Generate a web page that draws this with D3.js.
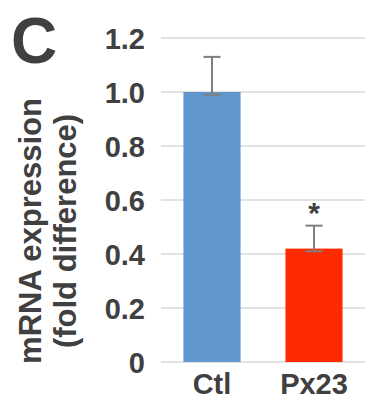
<!DOCTYPE html>
<html>
<head>
<meta charset="utf-8">
<script src="https://cdn.jsdelivr.net/npm/d3@7"></script>
<style>
  html, body { margin: 0; padding: 0; background: #fff; }
  svg { display: block; font-family: "Liberation Sans", Arial, sans-serif; }
  .tick text { font-weight: bold; fill: #404040; }
</style>
</head>
<body>
<div id="chart"></div>
<script>
// data
const groups = ["Ctl", "Px23"];
const means = [1.0, 0.42];
const errLow = [0.99, 0.41];
const errHigh = [1.13, 0.505];
const barColors = ["#5f96cb", "#ff2a00"];
const yTicks = [0, 0.2, 0.4, 0.6, 0.8, 1.0, 1.2];
const signif = ["", "*"];

const width = 365, height = 405;
const margin = { top: 38, right: 0, bottom: 43, left: 161 };
const innerW = width - margin.left - margin.right;
const innerH = height - margin.top - margin.bottom;

const svg = d3.select("#chart").append("svg")
  .attr("width", width)
  .attr("height", height);

const g = svg.append("g")
  .attr("transform", `translate(${margin.left},${margin.top})`);

const x = d3.scaleBand()
  .domain(groups)
  .range([0, innerW])
  .paddingInner(0.44)
  .paddingOuter(0.22);

const y = d3.scaleLinear()
  .domain([0, 1.2])
  .range([innerH, 0]);

// grid
g.append("g")
  .selectAll("line")
  .data(yTicks)
  .join("line")
  .attr("x1", 0)
  .attr("x2", innerW)
  .attr("y1", d => y(d))
  .attr("y2", d => y(d))
  .attr("stroke", "#d9d9d9")
  .attr("stroke-width", 1.5);

// bars
g.selectAll("rect.bar")
  .data(groups)
  .join("rect")
  .attr("class", "bar")
  .attr("x", d => x(d))
  .attr("y", (d, i) => y(means[i]))
  .attr("width", x.bandwidth())
  .attr("height", (d, i) => innerH - y(means[i]))
  .attr("fill", (d, i) => barColors[i]);

// error bars
const cap = 8.5;
const eb = g.selectAll("g.err")
  .data(groups)
  .join("g")
  .attr("class", "err")
  .attr("stroke", "#7f7f7f")
  .attr("stroke-width", 2);
eb.append("line")
  .attr("x1", d => x(d) + x.bandwidth() / 2)
  .attr("x2", d => x(d) + x.bandwidth() / 2)
  .attr("y1", (d, i) => y(errLow[i]))
  .attr("y2", (d, i) => y(errHigh[i]));
eb.append("line")
  .attr("x1", d => x(d) + x.bandwidth() / 2 - cap)
  .attr("x2", d => x(d) + x.bandwidth() / 2 + cap)
  .attr("y1", (d, i) => y(errHigh[i]))
  .attr("y2", (d, i) => y(errHigh[i]));
eb.append("line")
  .attr("x1", d => x(d) + x.bandwidth() / 2 - cap)
  .attr("x2", d => x(d) + x.bandwidth() / 2 + cap)
  .attr("y1", (d, i) => y(errLow[i]))
  .attr("y2", (d, i) => y(errLow[i]));

// significance star
g.selectAll("text.star")
  .data(groups)
  .join("text")
  .attr("class", "star")
  .attr("x", d => x(d) + x.bandwidth() / 2)
  .attr("y", (d, i) => y(errHigh[i]) - 3)
  .attr("text-anchor", "middle")
  .attr("fill", "#404040")
  .style("font-size", "30px")
  .style("font-weight", "bold")
  .text((d, i) => signif[i]);

// y axis
g.append("g")
  .call(d3.axisLeft(y).tickValues(yTicks).tickSize(0).tickPadding(16)
    .tickFormat(d => d === 0 ? "0" : d3.format(".1f")(d)))
  .call(a => a.select(".domain").remove())
  .selectAll("text")
  .style("font-size", "29px")
  .attr("dy", "0.35em");

// x axis
g.append("g")
  .attr("transform", `translate(0,${innerH})`)
  .call(d3.axisBottom(x).tickSize(0).tickPadding(11))
  .call(a => a.select(".domain").remove())
  .selectAll("text")
  .style("font-size", "29px");

// y title
svg.append("text")
  .attr("transform", "translate(30,231) rotate(-90)")
  .attr("text-anchor", "middle")
  .attr("fill", "#404040")
  .style("font-size", "31px")
  .style("font-weight", "bold")
  .selectAll("tspan")
  .data(["mRNA expression", "(fold difference)"])
  .join("tspan")
  .attr("x", 0)
  .attr("y", (d, i) => i * 35 + 11)
  .text(d => d);

// panel letter
svg.append("text")
  .attr("x", 34)
  .attr("y", 63)
  .attr("text-anchor", "middle")
  .attr("fill", "#404040")
  .style("font-size", "64px")
  .style("font-weight", "bold")
  .text("C");
</script>
</body>
</html>
